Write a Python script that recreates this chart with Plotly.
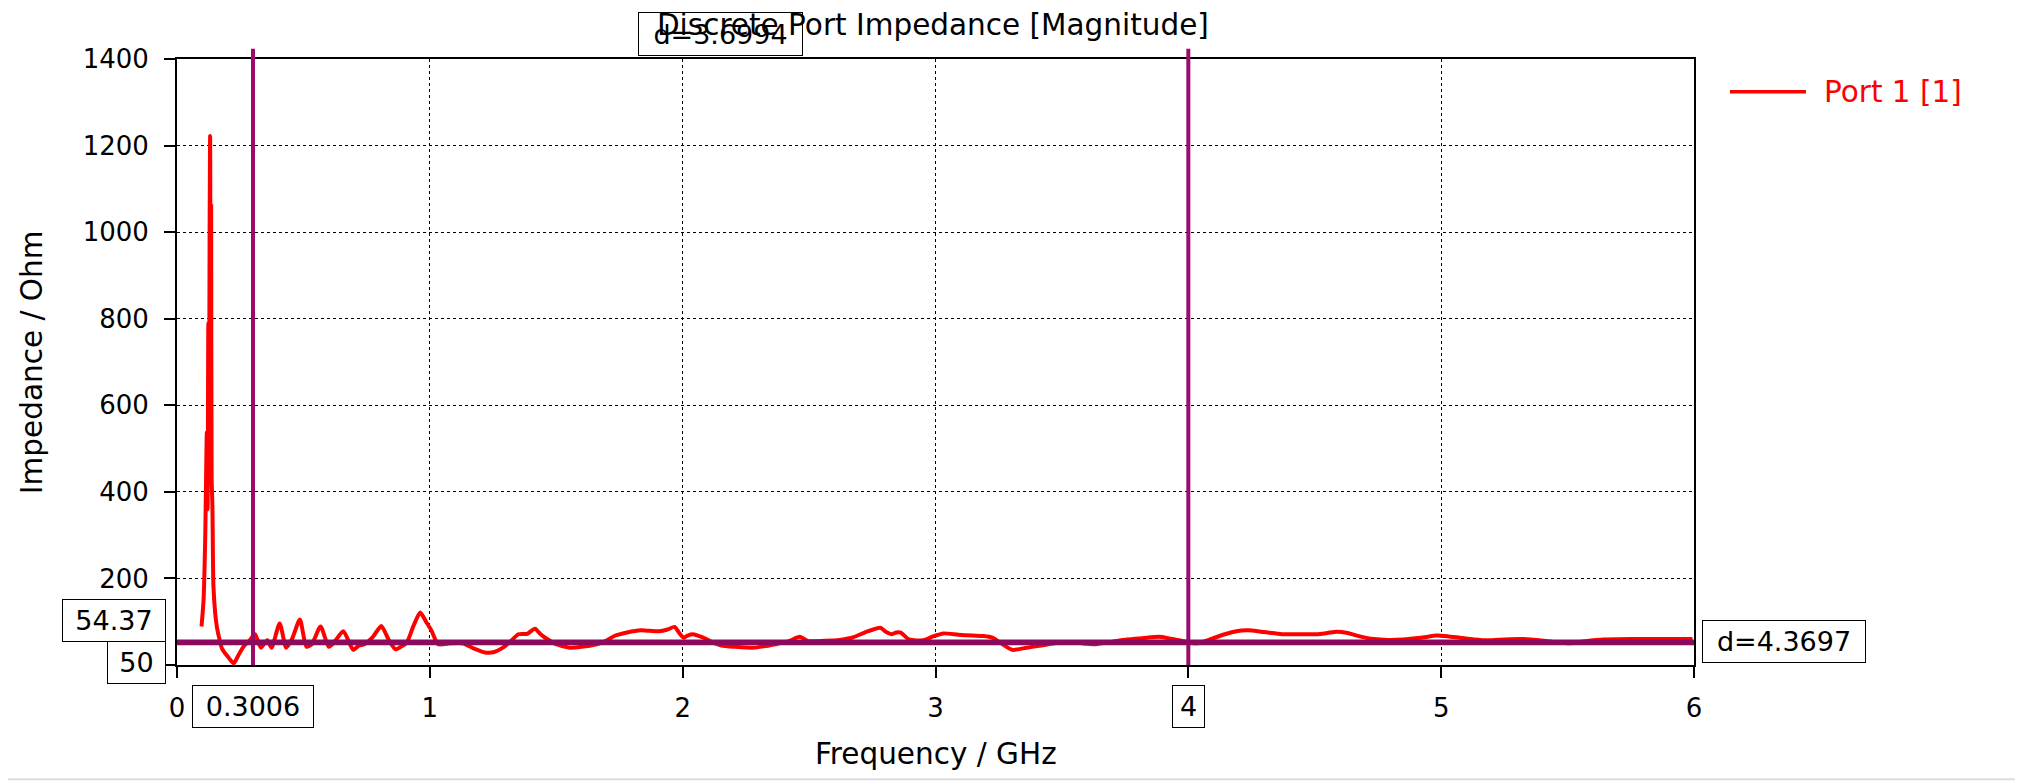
import plotly.graph_objects as go

# ---- data ----
freq_ghz = [0.097, 0.105, 0.1115, 0.118, 0.121, 0.124, 0.127, 0.129, 0.131, 0.133,
            0.135, 0.137, 0.140, 0.144, 0.151, 0.158, 0.167, 0.178, 0.200, 0.224,
            0.245, 0.265, 0.285, 0.300, 0.309, 0.332, 0.357, 0.374, 0.406, 0.432,
            0.455, 0.486, 0.512, 0.533, 0.568, 0.600, 0.621, 0.658, 0.697, 0.720,
            0.741, 0.775, 0.808, 0.840, 0.865, 0.885, 0.909, 0.935, 0.962, 0.985,
            1.006, 1.033, 1.080, 1.130, 1.175, 1.218, 1.255, 1.289, 1.320, 1.350,
            1.385, 1.416, 1.436, 1.456, 1.500, 1.553, 1.600, 1.659, 1.695, 1.730,
            1.780, 1.836, 1.870, 1.906, 1.940, 1.968, 1.985, 2.004, 2.020, 2.039,
            2.060, 2.083, 2.120, 2.153, 2.210, 2.277, 2.320, 2.365, 2.420, 2.463,
            2.498, 2.560, 2.620, 2.669, 2.720, 2.782, 2.805, 2.827, 2.845, 2.862,
            2.896, 2.952, 2.990, 3.032, 3.090, 3.145, 3.190, 3.225, 3.260, 3.304,
            3.360, 3.418, 3.470, 3.531, 3.580, 3.633, 3.700, 3.758, 3.820, 3.883,
            3.920, 3.963, 4.030, 4.090, 4.144, 4.190, 4.235, 4.300, 4.371, 4.440,
            4.507, 4.550, 4.586, 4.630, 4.666, 4.734, 4.790, 4.848, 4.920, 4.984,
            5.030, 5.075, 5.130, 5.188, 5.250, 5.324, 5.420, 5.506, 5.570, 5.642,
            5.750, 5.869, 5.994]
impedance_ohm = [89, 150, 290, 537, 360, 790, 620, 1000, 1222, 760,
                 1060, 430, 370, 184, 120, 87, 62, 38, 20, 4,
                 25, 44, 55, 66, 71, 40, 57, 40, 96, 40,
                 60, 105, 42, 48, 89, 42, 52, 78, 35, 45,
                 48, 65, 90, 55, 36, 42, 52, 90, 121, 100,
                 80, 48, 50, 50, 38, 29, 30, 40, 55, 71,
                 72, 84, 72, 63, 48, 40, 42, 48, 55, 67,
                 75, 80, 79, 78, 82, 88, 75, 63, 68, 71,
                 68, 63, 52, 45, 42, 40, 43, 48, 55, 65,
                 55, 56, 58, 63, 75, 86, 76, 71, 75, 75,
                 59, 57, 66, 73, 70, 68, 67, 63, 50, 35,
                 40, 45, 50, 53, 50, 48, 54, 59, 62, 65,
                 62, 57, 50, 60, 71, 78, 80, 76, 71, 71,
                 71, 74, 77, 74, 68, 60, 58, 59, 63, 68,
                 66, 63, 59, 57, 59, 60, 55, 50, 55, 59,
                 60, 60, 60]

x_ticks = [0, 1, 2, 3, 4, 5, 6]
x_tick_text = ["0", "1", "2", "3", "", "5", "6"]
y_ticks = [0, 200, 400, 600, 800, 1000, 1200, 1400]
y_tick_text = ["", "200", "400", "600", "800", "1000", "1200", "1400"]

marker_x = [0.3006, 4.0]
marker_y = [54.3697, 50.0]
series_name = "Port 1 [1]"
title_text = "Discrete Port Impedance [Magnitude]"

FONT = "DejaVu Sans"
FS_NUM = 26
FS_BOX = 27
FS_TXT = 29.5
MARK_V = "#9c0a6e"
MARK_H = "#8c0a5e"

fig = go.Figure()
fig.add_trace(go.Scatter(x=freq_ghz, y=impedance_ohm, mode="lines", name=series_name,
                         line=dict(color="#ff0000", width=4, shape="spline", smoothing=0.6),
                         showlegend=False))

shapes = []
for mx in marker_x:
    shapes.append(dict(type="line", xref="x", yref="paper", x0=mx, x1=mx, y0=0, y1=1.017,
                       line=dict(color=MARK_V, width=4), layer="above"))
for my in marker_y:
    shapes.append(dict(type="line", xref="paper", yref="y", x0=0, x1=1, y0=my, y1=my,
                       line=dict(color=MARK_H, width=4), layer="above"))
# legend line
shapes.append(dict(type="line", xref="paper", yref="paper", x0=1.0237, x1=1.0738,
                   y0=0.946, y1=0.946, line=dict(color="#ff0000", width=3.5)))
# window bottom edge
shapes.append(dict(type="rect", xref="paper", yref="paper", x0=-0.13, x1=1.23,
                   y0=-0.1901, y1=-0.1868, line=dict(width=0), fillcolor="#dcdcdc"))


def box(text, x, y, xref, yref, w, h, xanchor="center", yanchor="middle", bg="white"):
    return dict(text=text, x=x, y=y, xref=xref, yref=yref, xanchor=xanchor, yanchor=yanchor,
                showarrow=False, font=dict(family=FONT, size=FS_BOX, color="black"),
                bordercolor="black", borderwidth=1, borderpad=0, bgcolor=bg,
                width=w, height=h, align="center", valign="middle")


d_x = marker_x[1] - marker_x[0]
d_y = marker_y[0] - marker_y[1]
annotations = [
    box(f"{marker_x[0]:.4f}", marker_x[0], -0.069, "x", "paper", 120, 41),
    box(f"{marker_x[1]:g}", marker_x[1], -0.069, "x", "paper", 31, 41),
    box(f"{marker_y[0]:.2f}", -0.0071, 0.0742, "paper", "paper", 102, 41, xanchor="right"),
    box(f"{marker_y[1]:g}", -0.0071, 0.0048, "paper", "paper", 57, 41, xanchor="right"),
    box(f"d={d_y:.4f}", 1.0056, 0.039, "paper", "paper", 162, 41, xanchor="left"),
    box(f"d={d_x:.4f}", (marker_x[0] + marker_x[1]) / 2, 1.0417, "x", "paper", 163, 42,
        bg="rgba(0,0,0,0)"),
    dict(text=series_name, x=1.0845, y=0.946, xref="paper", yref="paper", xanchor="left",
         yanchor="middle", showarrow=False, font=dict(family=FONT, size=FS_TXT, color="#ff0000")),
    dict(text="Frequency / GHz", x=0.5, y=-0.147, xref="paper", yref="paper", xanchor="center",
         yanchor="middle", showarrow=False, font=dict(family=FONT, size=FS_TXT, color="black")),
    dict(text="Impedance / Ohm", x=-0.0955, y=0.5, xref="paper", yref="paper", xanchor="center",
         yanchor="middle", textangle=-90, showarrow=False,
         font=dict(family=FONT, size=FS_TXT, color="black")),
]

fig.update_layout(
    width=2015, height=774,
    margin=dict(l=169, r=329, t=51, b=117),
    paper_bgcolor="white", plot_bgcolor="white",
    font=dict(family=FONT, size=FS_NUM, color="black"),
    title=dict(text=title_text, x=(169 + 1517.2 * 0.4982) / 2015, xanchor="center",
               y=0.9785, yanchor="middle",
               font=dict(family=FONT, size=FS_TXT, color="black")),
    shapes=shapes, annotations=annotations,
    xaxis=dict(range=[0, 6], tickvals=x_ticks, ticktext=x_tick_text, ticks="outside",
               ticklen=11, tickwidth=2, tickcolor="black", showline=True, linecolor="black",
               linewidth=2, mirror=True, showgrid=True, gridcolor="black", gridwidth=1,
               griddash="dot", zeroline=False, ticklabelstandoff=8,
               tickfont=dict(family=FONT, size=FS_NUM, color="black")),
    yaxis=dict(range=[0, 1400], tickvals=y_ticks, ticktext=y_tick_text, ticks="outside",
               ticklen=11, tickwidth=2, tickcolor="black", showline=True, linecolor="black",
               linewidth=2, mirror=True, showgrid=True, gridcolor="black", gridwidth=1,
               griddash="dot", zeroline=False, ticklabelstandoff=10,
               tickfont=dict(family=FONT, size=FS_NUM, color="black")),
)

fig.write_html("out.html")
